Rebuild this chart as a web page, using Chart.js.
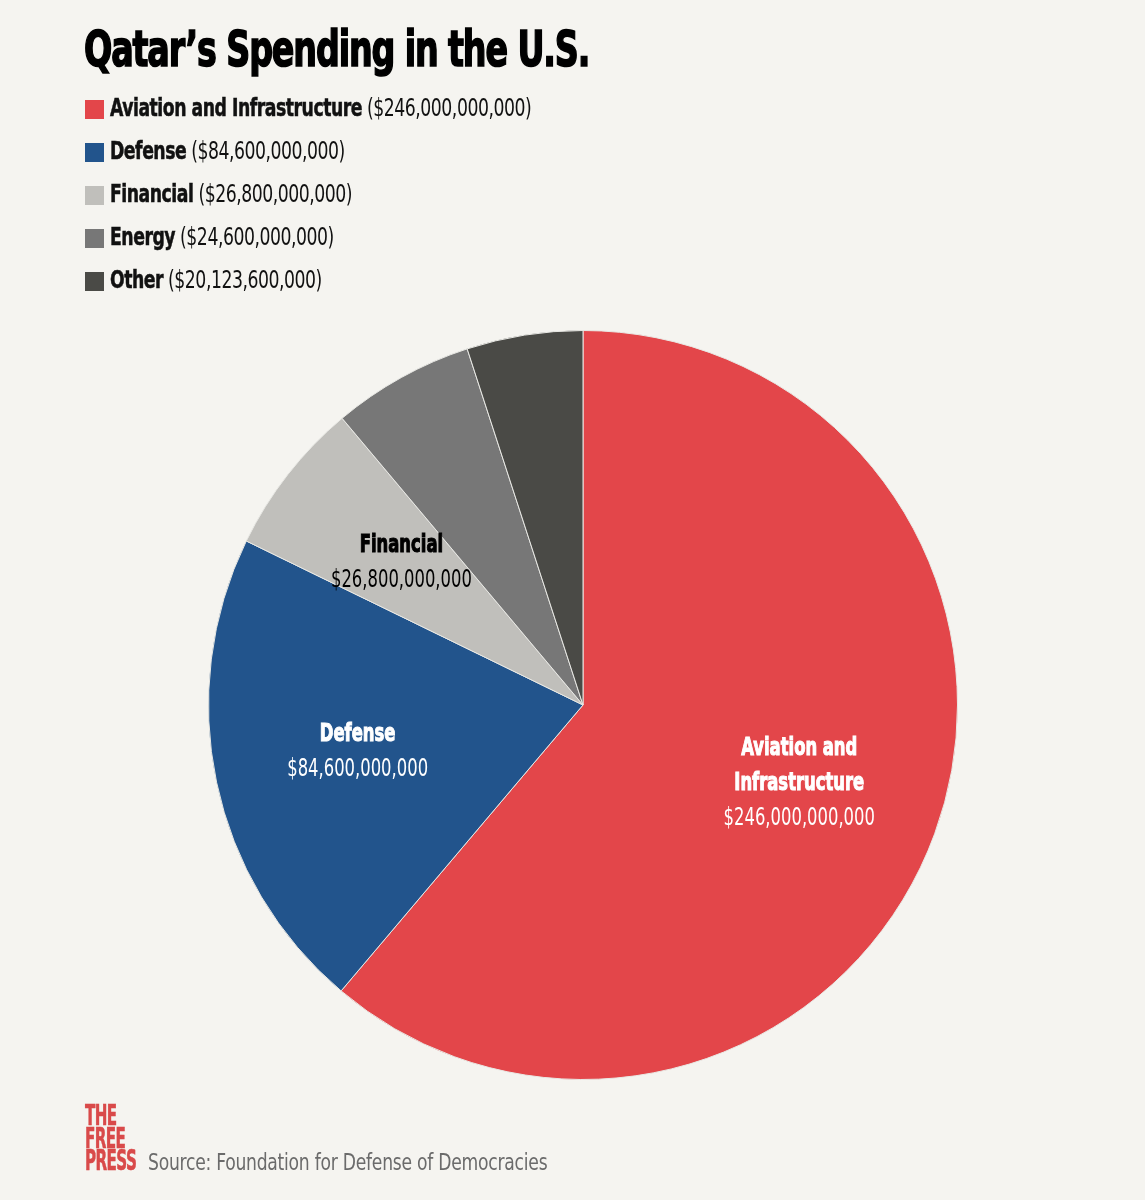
<!DOCTYPE html>
<html>
<head>
<meta charset="utf-8">
<script src="https://cdn.jsdelivr.net/npm/chart.js@4.4.1/dist/chart.umd.min.js"></script>
<style>
  html, body { margin: 0; padding: 0; background: #f5f4f0; }
  #wrap { position: relative; width: 1145px; height: 1200px; background: #f5f4f0; overflow: hidden; }
  #chartBox { position: absolute; left: 0; top: 0; width: 1145px; height: 1200px; }
  .cond { font-family: "DejaVu Sans Condensed", "Liberation Sans Narrow", Roboto, sans-serif; }
  #title { position: absolute; left: 84px; top: 20px; font-size: 50px; font-weight: 700; color: #000;
           letter-spacing: -1.5px; white-space: nowrap; margin: 0; transform: scaleX(0.74); transform-origin: left top;
           -webkit-text-stroke: 1.6px #000; }
  #legend { position: absolute; left: 85px; top: 96px; margin: 0; padding: 0; list-style: none; }
  #legend li { height: 43px; display: flex; align-items: flex-start; white-space: nowrap; }
  #legend .sw { width: 19px; height: 19px; margin-right: 6px; margin-top: 4px; flex: none; }
  #legend .txt { display: inline-block; font-size: 24px; color: #111; letter-spacing: -0.6px; transform: scaleX(0.8); transform-origin: left top; margin-top: -2px; }
  #legend b { font-weight: 700; -webkit-text-stroke: 0.5px #111; }
  #logo { position: absolute; left: 85px; top: 1104px; color: #d94a4a; font-weight: 700; font-size: 29px; line-height: 22.5px;
          letter-spacing: -1px; transform: scaleX(0.58); transform-origin: left top; -webkit-text-stroke: 0.6px #d94a4a; }
  #source { position: absolute; left: 148px; top: 1149px; color: #6b6b6b; font-size: 23px; white-space: nowrap;
            letter-spacing: -0.3px; transform: scaleX(0.83); transform-origin: left top; }
</style>
</head>
<body>
<div id="wrap">
  <div id="chartBox"><canvas id="c"></canvas></div>
  <h1 id="title" class="cond">Qatar’s Spending in the U.S.</h1>
  <ul id="legend" class="cond"></ul>
  <div id="logo" class="cond">THE<br>FREE<br>PRESS</div>
  <div id="source" class="cond">Source: Foundation for Defense of Democracies</div>
</div>
<script>
const categories = ['Aviation and Infrastructure', 'Defense', 'Financial', 'Energy', 'Other'];
const spending = [246000000000, 84600000000, 26800000000, 24600000000, 20123600000];
const sliceColors = ['#e3464a', '#22548c', '#c0bfbb', '#777777', '#4a4a46'];
const insideLabels = [['Aviation and', 'Infrastructure'], ['Defense'], ['Financial'], null, null];
const insideLabelColors = ['#ffffff', '#ffffff', '#000000', null, null];

const fmt = v => '$' + v.toLocaleString('en-US');

// HTML legend built from the data arrays
const legendEl = document.getElementById('legend');
categories.forEach((cat, i) => {
  const li = document.createElement('li');
  const sw = document.createElement('span');
  sw.className = 'sw';
  sw.style.background = sliceColors[i];
  const txt = document.createElement('span');
  txt.className = 'txt';
  const b = document.createElement('b');
  b.textContent = cat;
  txt.appendChild(b);
  txt.appendChild(document.createTextNode(' (' + fmt(spending[i]) + ')'));
  li.appendChild(sw); li.appendChild(txt);
  legendEl.appendChild(li);
});

const FONT = '"DejaVu Sans Condensed", "Liberation Sans Narrow", Roboto, sans-serif';

const sliceLabelPlugin = {
  id: 'sliceLabels',
  afterDatasetsDraw(chart) {
    const ctx = chart.ctx;
    const meta = chart.getDatasetMeta(0);
    meta.data.forEach((arc, i) => {
      const lines = insideLabels[i];
      if (!lines) return;
      const mid = (arc.startAngle + arc.endAngle) / 2;
      const r = arc.outerRadius * 0.615;
      const cx = arc.x + Math.cos(mid) * r;
      const cy = arc.y + Math.sin(mid) * r;
      const lh = 35;
      const all = lines.length + 1;
      const y0 = cy - (all - 1) * lh / 2;
      const col = insideLabelColors[i];
      const drawLine = (t, y, bold) => {
        ctx.save();
        ctx.translate(cx, y);
        ctx.scale(0.76, 1);
        ctx.font = (bold ? 'bold ' : '') + '24px ' + FONT;
        ctx.fillStyle = col;
        ctx.textAlign = 'center';
        ctx.textBaseline = 'middle';
        if (bold) { ctx.strokeStyle = col; ctx.lineWidth = 1; ctx.strokeText(t, 0, 0); }
        ctx.fillText(t, 0, 0);
        ctx.restore();
      };
      lines.forEach((t, k) => drawLine(t, y0 + k * lh, true));
      drawLine(fmt(spending[i]), y0 + lines.length * lh, false);
    });
  }
};

new Chart(document.getElementById('c'), {
  type: 'pie',
  data: {
    labels: categories,
    datasets: [{
      data: spending,
      backgroundColor: sliceColors,
      borderColor: '#e8e8e4',
      borderWidth: 1
    }]
  },
  options: {
    responsive: true,
    maintainAspectRatio: false,
    animation: false,
    layout: { padding: { top: 330, left: 208, right: 187, bottom: 120 } },
    plugins: {
      legend: { display: false },
      title: { display: false },
      tooltip: { enabled: false }
    }
  },
  plugins: [sliceLabelPlugin]
});
</script>
</body>
</html>
